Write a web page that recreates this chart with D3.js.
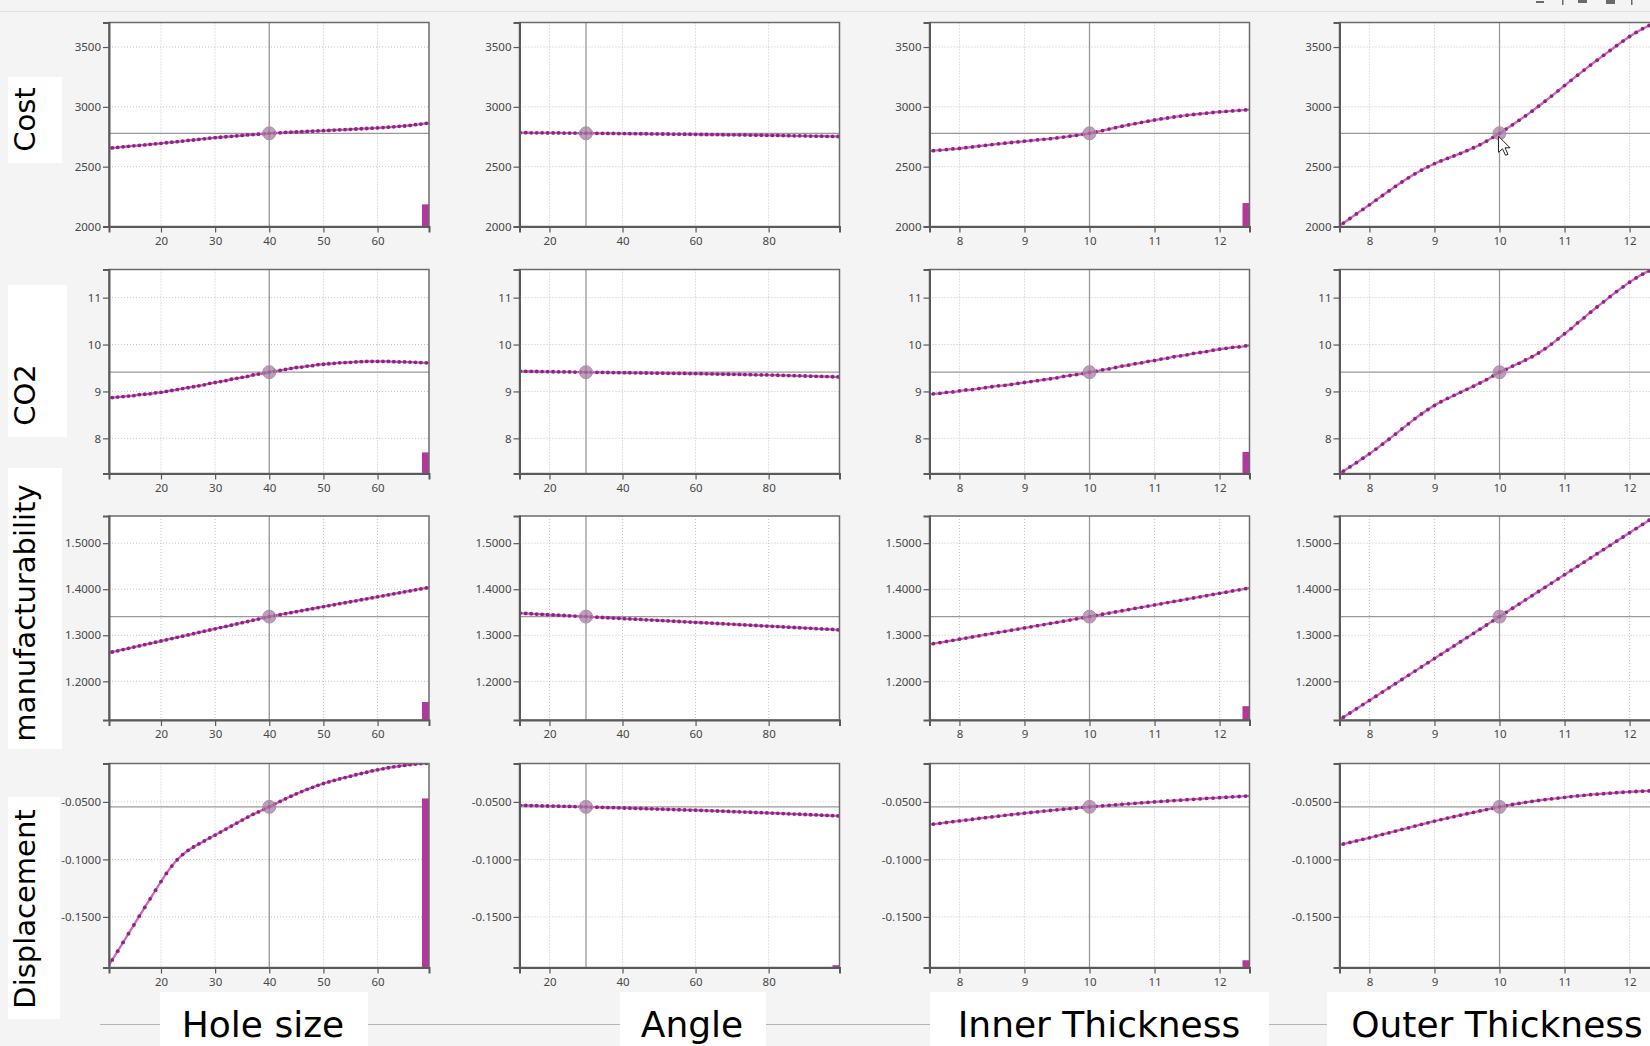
<!DOCTYPE html>
<html>
<head>
<meta charset="utf-8">
<script src="https://cdn.jsdelivr.net/npm/d3@7/dist/d3.min.js"></script>
<style>
    html, body { margin: 0; padding: 0; background: #f4f4f4; overflow: hidden; }
    svg { display: block; }
</style>
</head>
<body>
<div id="content"></div>
<script>
// sample positions of each design variable
let holeX = [10, 11, 12, 13, 14, 15, 16, 17, 18, 19, 20, 21, 22, 23, 24, 25, 26, 27, 28, 29, 30, 31, 32, 33, 34, 35, 36, 37, 38, 39, 40,
    41, 42, 43, 44, 45, 46, 47, 48, 49, 50, 51, 52, 53, 54, 55, 56, 57, 58, 59, 60, 61, 62, 63, 64, 65, 66, 67, 68, 69, 70];
let angleX = [12, 13.5, 15, 16.5, 18, 19.5, 21, 22.5, 24, 25.5, 27, 28.5, 30, 31.5, 33, 34.5, 36, 37.5, 39, 40.5, 42, 43.5, 45, 46.5,
    48, 49.5, 51, 52.5, 54, 55.5, 57, 58.5, 60, 61.5, 63, 64.5, 66, 67.5, 69, 70.5, 72, 73.5, 75, 76.5, 78, 79.5, 81, 82.5, 84, 85.5,
    87, 88.5, 90, 91.5, 93, 94.5, 96, 97.5, 99];
let thickX = [7.5, 7.6, 7.7, 7.8, 7.9, 8.0, 8.1, 8.2, 8.3, 8.4, 8.5, 8.6, 8.7, 8.8, 8.9, 9.0, 9.1, 9.2, 9.3, 9.4, 9.5, 9.6, 9.7, 9.8, 9.9,
    10.0, 10.1, 10.2, 10.3, 10.4, 10.5, 10.6, 10.7, 10.8, 10.9, 11.0, 11.1, 11.2, 11.3, 11.4, 11.5, 11.6, 11.7, 11.8, 11.9, 12.0, 12.1,
    12.2, 12.3, 12.4, 12.5];

let columnNames = ["Hole size", "Angle", "Inner Thickness", "Outer Thickness"];
let columnDomains = [[10.4, 69.5], [11.8, 99.4], [7.54, 12.46], [7.54, 12.46]];
let columnTicks = [[20, 30, 40, 50, 60], [20, 40, 60, 80], [8, 9, 10, 11, 12], [8, 9, 10, 11, 12]];
let columnRef = [40, 30, 10, 10];

let rowNames = ["Cost", "CO2", "manufacturability", "Displacement"];

// Cost
let costDomain = [2000, 3705];
let costTicks = [2000, 2500, 3000, 3500];
let costRef = 2779;
let costBars = [2185, null, 2196, null];
let costHole = [2653, 2657, 2661, 2666, 2670, 2674, 2678, 2682, 2687, 2691, 2695, 2700, 2705, 2709, 2714, 2719, 2723, 2728, 2733, 2738,
    2742, 2746, 2750, 2754, 2757, 2761, 2765, 2768, 2772, 2775, 2779, 2781, 2783, 2786, 2788, 2790, 2792, 2795, 2797, 2799,
    2801, 2803, 2806, 2808, 2810, 2812, 2815, 2817, 2819, 2822, 2824, 2827, 2830, 2833, 2837, 2840, 2845, 2851, 2856, 2862, 2868];
let costAngle = [2784, 2784, 2783, 2783, 2783, 2782, 2782, 2782, 2781, 2781, 2781, 2780, 2780,
    2780, 2779, 2779, 2778, 2778, 2777, 2777, 2776, 2776, 2775, 2775, 2774, 2774, 2773, 2773, 2772, 2772, 2771, 2771, 2770,
    2769, 2769, 2768, 2768, 2767, 2766, 2766, 2765, 2765, 2764, 2763, 2763, 2762,
    2761, 2761, 2760, 2759, 2758, 2758, 2757, 2756, 2755, 2755, 2754, 2753, 2752];
let costInner = [2630, 2634, 2639, 2643, 2648, 2652, 2659, 2665, 2672, 2678, 2685, 2691, 2696, 2702, 2707, 2713, 2718, 2724, 2729, 2734,
    2740, 2747, 2755, 2762, 2770, 2779, 2790, 2802, 2814, 2826, 2838, 2849, 2859, 2870, 2880, 2890, 2899, 2907, 2915, 2923,
    2930, 2936, 2942, 2947, 2953, 2958, 2962, 2966, 2970, 2974, 2977];
let costOuter = [1991, 2029, 2067, 2105, 2143, 2181, 2220, 2259, 2297, 2335, 2372, 2407, 2440, 2471, 2499, 2525, 2548, 2569, 2590, 2611,
    2634, 2658, 2684, 2713, 2745, 2779, 2814, 2850, 2887, 2925, 2964, 3005, 3047, 3090, 3134, 3178, 3222, 3265, 3307, 3349,
    3390, 3431, 3471, 3511, 3550, 3588, 3622, 3653, 3680, 3704, 3725];

// CO2
let co2Domain = [7.25, 11.6];
let co2Ticks = [8, 9, 10, 11];
let co2Ref = 9.41;
let co2Bars = [7.70, null, 7.71, null];
let co2Hole = [8.86, 8.87, 8.88, 8.89, 8.90, 8.91, 8.93, 8.94, 8.95, 8.97, 8.98, 9.00, 9.02, 9.04, 9.06, 9.08, 9.10, 9.12, 9.14, 9.17,
    9.19, 9.21, 9.23, 9.26, 9.28, 9.30, 9.32, 9.35, 9.37, 9.39, 9.41, 9.43, 9.45, 9.47, 9.49, 9.51, 9.52, 9.54, 9.55, 9.57,
    9.58, 9.59, 9.60, 9.61, 9.615, 9.62, 9.63, 9.635, 9.64, 9.64, 9.64, 9.64, 9.64, 9.635, 9.63, 9.63, 9.625, 9.62, 9.615, 9.61, 9.605];
let co2Angle = [9.430, 9.428, 9.427, 9.425, 9.423, 9.422, 9.420, 9.418, 9.417, 9.415, 9.413, 9.412, 9.410,
    9.408, 9.407, 9.405, 9.404, 9.402, 9.401, 9.399, 9.398, 9.396, 9.395, 9.393, 9.392, 9.390, 9.389, 9.387, 9.386, 9.384, 9.383, 9.381, 9.380,
    9.378, 9.375, 9.373, 9.371, 9.369, 9.366, 9.364, 9.362, 9.360, 9.357, 9.355, 9.353, 9.351,
    9.348, 9.345, 9.342, 9.339, 9.335, 9.332, 9.329, 9.326, 9.323, 9.320, 9.316, 9.313, 9.310];
let co2Inner = [8.93, 8.95, 8.96, 8.98, 8.99, 9.01, 9.03, 9.04, 9.06, 9.08, 9.10, 9.12, 9.13, 9.15, 9.17, 9.19, 9.21, 9.23, 9.25, 9.27,
    9.29, 9.32, 9.34, 9.36, 9.38, 9.41, 9.43, 9.46, 9.48, 9.51, 9.54, 9.56, 9.59, 9.61, 9.64, 9.66, 9.69, 9.71, 9.74, 9.76,
    9.78, 9.81, 9.83, 9.85, 9.88, 9.90, 9.92, 9.94, 9.95, 9.97, 9.99];
let co2Outer = [7.21, 7.30, 7.39, 7.48, 7.575, 7.67, 7.77, 7.875, 7.98, 8.09, 8.20, 8.31, 8.42, 8.52, 8.615, 8.70, 8.78, 8.85, 8.915, 8.98,
    9.045, 9.11, 9.18, 9.25, 9.33, 9.41, 9.47, 9.54, 9.60, 9.67, 9.74, 9.82, 9.91, 10.01, 10.12, 10.23, 10.34, 10.46, 10.57, 10.69,
    10.80, 10.91, 11.02, 11.13, 11.23, 11.33, 11.42, 11.50, 11.57, 11.63, 11.68];

// manufacturability
let manufDomain = [1.116, 1.559];
let manufTicks = [1.2, 1.3, 1.4, 1.5];
let manufRef = 1.3405;
let manufBars = [1.155, null, 1.146, null];
let manufHole = [1.2610, 1.2637, 1.2663, 1.2690, 1.2716, 1.2743, 1.2769, 1.2796, 1.2822, 1.2849, 1.2875, 1.2902, 1.2928, 1.2955,
    1.2981, 1.3008, 1.3034, 1.3061, 1.3087, 1.3114, 1.3140, 1.3167, 1.3193, 1.3220, 1.3246, 1.3273, 1.3299, 1.3326, 1.3352, 1.3379,
    1.3405, 1.3427, 1.3448, 1.3470, 1.3491, 1.3513, 1.3534, 1.3556, 1.3577, 1.3599, 1.3620, 1.3642, 1.3663, 1.3685, 1.3706, 1.3728,
    1.3749, 1.3771, 1.3792, 1.3814, 1.3835, 1.3857, 1.3878, 1.3900, 1.3921, 1.3943, 1.3964, 1.3986, 1.4007, 1.4029, 1.4050];
let manufAngle = [1.3479, 1.3473, 1.3467, 1.3460, 1.3454, 1.3448, 1.3442, 1.3436, 1.3429, 1.3423, 1.3417, 1.3411, 1.3405,
    1.3398, 1.3392, 1.3386, 1.3380, 1.3374, 1.3367, 1.3361, 1.3355, 1.3349, 1.3343, 1.3336, 1.3330, 1.3324, 1.3318, 1.3312, 1.3305,
    1.3299, 1.3293, 1.3287, 1.3281, 1.3274, 1.3268, 1.3262, 1.3256, 1.3250, 1.3243, 1.3237, 1.3231, 1.3225, 1.3219, 1.3212, 1.3206,
    1.3200, 1.3194, 1.3188, 1.3181, 1.3175, 1.3169, 1.3163, 1.3157, 1.3150, 1.3144, 1.3138, 1.3132, 1.3126, 1.3119];
let manufInner = [1.2792, 1.2817, 1.2841, 1.2866, 1.2890, 1.2915, 1.2939, 1.2964, 1.2988, 1.3013, 1.3037, 1.3062, 1.3086, 1.3111,
    1.3135, 1.3160, 1.3184, 1.3209, 1.3233, 1.3258, 1.3282, 1.3307, 1.3331, 1.3356, 1.3380, 1.3405, 1.3430, 1.3456, 1.3481, 1.3506,
    1.3532, 1.3557, 1.3582, 1.3607, 1.3633, 1.3658, 1.3683, 1.3709, 1.3734, 1.3759, 1.3785, 1.3810, 1.3835, 1.3860, 1.3886, 1.3911,
    1.3936, 1.3962, 1.3987, 1.4012, 1.4038];
let manufOuter = [1.1130, 1.1221, 1.1312, 1.1403, 1.1494, 1.1585, 1.1676, 1.1767, 1.1858, 1.1949, 1.2040, 1.2131, 1.2222, 1.2313,
    1.2404, 1.2495, 1.2586, 1.2677, 1.2768, 1.2859, 1.2950, 1.3041, 1.3132, 1.3223, 1.3314, 1.3405, 1.3496, 1.3587, 1.3678, 1.3769,
    1.3860, 1.3951, 1.4042, 1.4133, 1.4224, 1.4315, 1.4406, 1.4497, 1.4588, 1.4679, 1.4770, 1.4861, 1.4952, 1.5043, 1.5134, 1.5225,
    1.5316, 1.5407, 1.5498, 1.5589, 1.5680];

// Displacement
let dispDomain = [-0.194, -0.0166];
let dispTicks = [-0.15, -0.1, -0.05];
let dispRef = -0.0543;
let dispBars = [-0.047, -0.192, -0.1877, null];
let dispHole = [-0.1950, -0.1874, -0.1798, -0.1722, -0.1646, -0.1570, -0.1494, -0.1418, -0.1343, -0.1268, -0.1193, -0.1122, -0.1058,
    -0.1003, -0.0958, -0.0922, -0.0892, -0.0865, -0.0839, -0.0813, -0.0788, -0.0762, -0.0736, -0.0710, -0.0684, -0.0658, -0.0633,
    -0.0608, -0.0587, -0.0565, -0.0543, -0.0519, -0.0496, -0.0473, -0.0451, -0.0430, -0.0410, -0.0391, -0.0373, -0.0356, -0.0340,
    -0.0326, -0.0313, -0.0300, -0.0288, -0.0276, -0.0264, -0.0253, -0.0242, -0.0231, -0.0221, -0.0212, -0.0203, -0.0195, -0.0188,
    -0.0182, -0.0176, -0.0171, -0.0167, -0.0164, -0.0161];
let dispAngle = [-0.0530, -0.0531, -0.0532, -0.0533, -0.05345, -0.05355, -0.05365, -0.05375, -0.05385, -0.05395, -0.05405, -0.0542,
    -0.0543, -0.05445, -0.0546, -0.05475, -0.0549, -0.0550, -0.05515, -0.0553, -0.05545, -0.0556, -0.05575, -0.0559, -0.05605,
    -0.0562, -0.05635, -0.0565, -0.05665, -0.0568, -0.05695, -0.0571, -0.0572, -0.0574, -0.05755, -0.05775, -0.0579, -0.0581,
    -0.0583, -0.05845, -0.05865, -0.0588, -0.0590, -0.0592, -0.05935, -0.05955, -0.05975, -0.05995, -0.06015, -0.06035, -0.06055,
    -0.06075, -0.06095, -0.06115, -0.06135, -0.06155, -0.06175, -0.06195, -0.0622];
let dispInner = [-0.0700, -0.0693, -0.0686, -0.0679, -0.0672, -0.0665, -0.0658, -0.0651, -0.0644, -0.0637, -0.06305, -0.0624,
    -0.0617, -0.0611, -0.06045, -0.0598, -0.0592, -0.0586, -0.0580, -0.05745, -0.0569, -0.05635, -0.0558, -0.0553, -0.0548, -0.0543,
    -0.05385, -0.0534, -0.05295, -0.0525, -0.0521, -0.05165, -0.05125, -0.0508, -0.0504, -0.0500, -0.0496, -0.0492, -0.04885,
    -0.0485, -0.0481, -0.04775, -0.0474, -0.0470, -0.04665, -0.0463, -0.04595, -0.0456, -0.0453, -0.04495, -0.0446];
let dispOuter = [-0.0880, -0.0866, -0.08525, -0.0839, -0.08255, -0.0812, -0.07975, -0.0783, -0.07685, -0.0754, -0.07395, -0.0725,
    -0.07105, -0.0696, -0.06815, -0.0667, -0.06538, -0.06408, -0.0628, -0.06154, -0.0603, -0.05908, -0.05788, -0.0567, -0.05552,
    -0.0543, -0.05325, -0.05225, -0.0513, -0.0504, -0.04955, -0.04875, -0.0480, -0.0473, -0.04665, -0.0460, -0.0454, -0.04482,
    -0.04427, -0.04375, -0.04326, -0.0428, -0.04237, -0.04197, -0.0416, -0.04125, -0.04095, -0.04068, -0.04044, -0.04023, -0.04005];

const W = 1650, H = 1046;
const plotW = 320, plotH = 204;
const colLeft = [109, 519.5, 929.5, 1339.5];
const rowTop = [22.5, 269.5, 516, 763.5];

const lineColor = "#cd66be",
    dotColor = "#8c2480",
    barColor = "#b3389c",
    axisColor = "#5a5a5a",
    tickFont = "'Noto Sans', 'Open Sans', sans-serif",
    labelFont = "'DejaVu Sans', Verdana, sans-serif";

let columns = columnNames.map(function(name, i)
{
    return {name: name, domain: columnDomains[i], ticks: columnTicks[i], ref: columnRef[i], xs: [holeX, angleX, thickX, thickX][i]};
});

let rows = [
    {name: rowNames[0], domain: costDomain, ticks: costTicks, ref: costRef, bars: costBars,
        series: [costHole, costAngle, costInner, costOuter], fmt: function(d) { return d.toFixed(0); }},
    {name: rowNames[1], domain: co2Domain, ticks: co2Ticks, ref: co2Ref, bars: co2Bars,
        series: [co2Hole, co2Angle, co2Inner, co2Outer], fmt: function(d) { return d.toFixed(0); }},
    {name: rowNames[2], domain: manufDomain, ticks: manufTicks, ref: manufRef, bars: manufBars,
        series: [manufHole, manufAngle, manufInner, manufOuter], fmt: function(d) { return d.toFixed(4); }},
    {name: rowNames[3], domain: dispDomain, ticks: dispTicks, ref: dispRef, bars: dispBars,
        series: [dispHole, dispAngle, dispInner, dispOuter], fmt: function(d) { return d.toFixed(4); }}
];

// white boxes behind the big labels: [x, y, w, h]
const rowLabelBox = [[8, 77, 54, 86], [8, 285, 59, 152], [8, 468, 54, 281], [8, 797, 52, 222]];
const rowLabelY = [119.5, 395, 613, 909];
const colLabelBox = [[160, 992, 208, 54], [620, 992, 146, 54], [930, 992, 339, 54], [1327, 992, 323, 54]];
const colLabelX = [263, 692, 1099, 1497];

let svg = d3.select("#content")
    .append("svg")
    .attr("width", W)
    .attr("height", H);

svg.append("rect")
    .attr("width", W)
    .attr("height", H)
    .attr("fill", "#f4f4f4");

// top window edge and toolbar scraps
svg.append("line")
    .attr("x1", 0).attr("x2", W)
    .attr("y1", 11.5).attr("y2", 11.5)
    .attr("stroke", "#dedede");

[[1536, 1, 8, 2], [1562, 0, 1.5, 5], [1578, 0, 9, 3], [1606, 0, 9, 4], [1631, 0, 1.5, 5]].forEach(function(r)
{
    svg.append("rect")
        .attr("x", r[0]).attr("y", r[1])
        .attr("width", r[2]).attr("height", r[3])
        .attr("fill", "#6a6a6a");
});

// bottom separator line
svg.append("line")
    .attr("x1", 100).attr("x2", W)
    .attr("y1", 1024.5).attr("y2", 1024.5)
    .attr("stroke", "#b4b4b4");

function drawPanel(row, col, r, c)
{
    let g = svg.append("g")
        .attr("transform", "translate(" + colLeft[c] + "," + rowTop[r] + ")");

    let x = d3.scaleLinear().domain(col.domain).range([0, plotW]);
    let y = d3.scaleLinear().domain(row.domain).range([plotH, 0]);

    g.append("rect")
        .attr("width", plotW)
        .attr("height", plotH)
        .attr("fill", "#fff");

    // dotted grid
    g.append("g")
        .selectAll("line")
        .data(col.ticks)
        .enter()
        .append("line")
        .attr("x1", function(d) { return x(d); })
        .attr("x2", function(d) { return x(d); })
        .attr("y1", 0)
        .attr("y2", plotH)
        .attr("stroke", "#c4c4c4")
        .attr("stroke-dasharray", "1,2");

    g.append("g")
        .selectAll("line")
        .data(row.ticks)
        .enter()
        .append("line")
        .attr("x1", 0)
        .attr("x2", plotW)
        .attr("y1", function(d) { return y(d); })
        .attr("y2", function(d) { return y(d); })
        .attr("stroke", "#c4c4c4")
        .attr("stroke-dasharray", "1,2");

    // reference cross
    g.append("line")
        .attr("x1", x(col.ref)).attr("x2", x(col.ref))
        .attr("y1", 0).attr("y2", plotH)
        .attr("stroke", "#999")
        .attr("stroke-width", 1.3);

    g.append("line")
        .attr("x1", 0).attr("x2", plotW)
        .attr("y1", y(row.ref)).attr("y2", y(row.ref))
        .attr("stroke", "#999")
        .attr("stroke-width", 1.3);

    let clipId = "clip-" + r + "-" + c;
    g.append("clipPath")
        .attr("id", clipId)
        .append("rect")
        .attr("width", plotW)
        .attr("height", plotH);

    let plot = g.append("g").attr("clip-path", "url(#" + clipId + ")");

    let bar = row.bars[c];
    if (bar != null)
    {
        plot.append("rect")
            .attr("x", plotW - 7)
            .attr("y", y(bar))
            .attr("width", 7)
            .attr("height", plotH - y(bar))
            .attr("fill", barColor);
    }

    let ys = row.series[c];
    let pts = col.xs.slice(0, ys.length).map(function(v, i) { return [v, ys[i]]; });

    plot.append("path")
        .datum(pts)
        .attr("fill", "none")
        .attr("stroke", lineColor)
        .attr("stroke-width", 2.3)
        .attr("d", d3.line()
            .x(function(d) { return x(d[0]); })
            .y(function(d) { return y(d[1]); })
            .curve(d3.curveMonotoneX));

    plot.append("g")
        .selectAll("circle")
        .data(pts)
        .enter()
        .append("circle")
        .attr("cx", function(d) { return x(d[0]); })
        .attr("cy", function(d) { return y(d[1]); })
        .attr("r", 1.9)
        .attr("fill", dotColor);

    plot.append("circle")
        .attr("cx", x(col.ref))
        .attr("cy", y(row.ref))
        .attr("r", 6.5)
        .attr("fill", "#a57a9f")
        .attr("fill-opacity", 0.72)
        .attr("stroke", "#b48fb0")
        .attr("stroke-width", 1);

    // frame
    g.append("rect")
        .attr("width", plotW)
        .attr("height", plotH)
        .attr("fill", "none")
        .attr("stroke", "#6b6b6b")
        .attr("stroke-width", 1.5);

    let yAxis = g.append("g")
        .call(d3.axisLeft(y)
            .tickValues(row.ticks)
            .tickFormat(row.fmt)
            .tickSize(6)
            .tickPadding(2));

    let xAxis = g.append("g")
        .attr("transform", "translate(0," + plotH + ")")
        .call(d3.axisBottom(x)
            .tickValues(col.ticks)
            .tickFormat(d3.format("d"))
            .tickSize(6)
            .tickPadding(4));

    [yAxis, xAxis].forEach(function(a)
    {
        a.attr("font-family", tickFont).attr("font-size", 11.5);
        a.select(".domain").attr("stroke", axisColor).attr("stroke-width", 2);
        a.selectAll(".tick line").attr("stroke", axisColor).attr("stroke-width", 1.2);
        a.selectAll(".tick text").attr("fill", "#474747");
    });

    // mouse cursor resting on the Cost / Outer Thickness reference point
    if (r == 0 && c == 3)
    {
        g.append("path")
            .attr("transform", "translate(" + (x(col.ref) - 1) + "," + (y(row.ref) + 3) + ")")
            .attr("d", "M0,0 L0,16 L4,12.5 L7,19 L9.5,18 L6.5,11.5 L11.5,11.5 Z")
            .attr("fill", "#fff")
            .attr("stroke", "#222")
            .attr("stroke-width", 1);
    }
}

rows.forEach(function(row, r)
{
    columns.forEach(function(col, c)
    {
        drawPanel(row, col, r, c);
    });
});

// row labels
rows.forEach(function(row, r)
{
    let b = rowLabelBox[r];
    svg.append("rect")
        .attr("x", b[0]).attr("y", b[1])
        .attr("width", b[2]).attr("height", b[3])
        .attr("fill", "#fff");

    svg.append("text")
        .attr("transform", "translate(35," + rowLabelY[r] + ") rotate(-90)")
        .attr("text-anchor", "middle")
        .attr("font-family", labelFont)
        .attr("font-size", 29)
        .attr("fill", "#000")
        .text(row.name);
});

// column labels
columns.forEach(function(col, c)
{
    let b = colLabelBox[c];
    svg.append("rect")
        .attr("x", b[0]).attr("y", b[1])
        .attr("width", b[2]).attr("height", b[3])
        .attr("fill", "#fff");

    svg.append("text")
        .attr("x", colLabelX[c])
        .attr("y", 1037)
        .attr("text-anchor", "middle")
        .attr("font-family", labelFont)
        .attr("font-size", 36)
        .attr("fill", "#000")
        .text(col.name);
});
</script>
</body>
</html>
